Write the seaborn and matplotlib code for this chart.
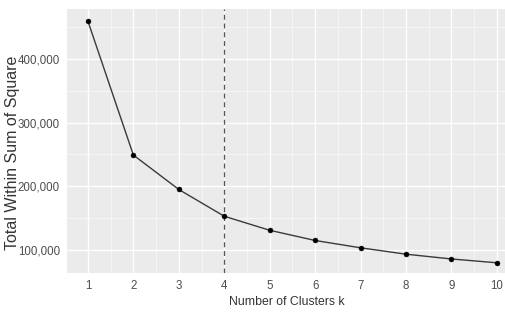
import numpy as np
import pandas as pd
import matplotlib
matplotlib.use("Agg")
import matplotlib.pyplot as plt
import seaborn as sns
from matplotlib.ticker import FuncFormatter, MultipleLocator

# elbow curve values
k_values = [1, 2, 3, 4, 5, 6, 7, 8, 9, 10]
wss = [459000, 249000, 195000, 153000, 131000, 115000, 103500, 93500, 86000, 80000]
best_k = 4

df = pd.DataFrame({"k": k_values, "wss": wss})

sns.set_theme(style="darkgrid", rc={
    "axes.facecolor": "#ebebeb",
    "grid.color": "white",
    "grid.linewidth": 1.0,
    "axes.edgecolor": "#ebebeb",
})
plt.rcParams['font.family'] = ['Liberation Sans', 'DejaVu Sans']

fig = plt.figure(figsize=(5.06, 3.14), dpi=100)
ax = fig.add_axes([67/506, 1-273/314, 1-67/506, (273-9)/314])

sns.lineplot(data=df, x="k", y="wss", color="#3a3a3a", linewidth=1.0, ax=ax)
sns.scatterplot(data=df, x="k", y="wss", color="black", s=13, edgecolor="black", ax=ax, zorder=3)
ax.axvline(best_k, color="#555555", linestyle=(0, (4, 3)), linewidth=0.9)

ax.set_xlim(0.54, 10.2)
ax.set_ylim(64000, 478000)
ax.xaxis.set_major_locator(MultipleLocator(1))
ax.xaxis.set_minor_locator(MultipleLocator(0.5))
ax.yaxis.set_major_locator(MultipleLocator(100000))
ax.yaxis.set_minor_locator(MultipleLocator(50000))
ax.yaxis.set_major_formatter(FuncFormatter(lambda v, p: f"{int(v):,}"))
ax.grid(which="major", color="white", linewidth=1.0)
ax.grid(which="minor", color="#f7f7f7", linewidth=0.6)
ax.tick_params(which="major", length=3, width=0.8, color="#555555",
               labelsize=8.3, labelcolor="#4d4d4d", pad=2)
ax.tick_params(which="minor", length=0)
for s in ax.spines.values():
    s.set_visible(False)

ax.set_xlabel("Number of Clusters k", fontsize=8.8, color="#333333", labelpad=3)
ax.set_ylabel("Total Within Sum of Square", fontsize=11.5, color="#333333")
ax.yaxis.set_label_coords(-0.108, 0.455)

fig.savefig("out.png", dpi=100)
